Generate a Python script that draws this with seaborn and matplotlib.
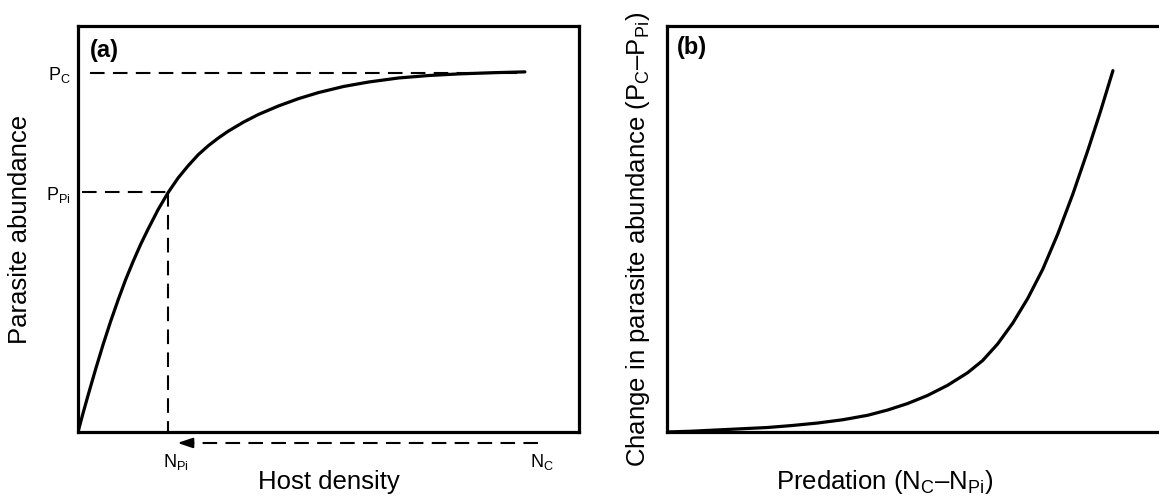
import matplotlib
matplotlib.use("Agg")
import matplotlib.pyplot as plt
import seaborn as sns

# Panel (a): parasite abundance vs host density
host_density = [0, 0.01, 0.02, 0.035, 0.05, 0.065, 0.08, 0.095, 0.11, 0.125,
                0.14, 0.16, 0.18, 0.20, 0.22, 0.24, 0.26, 0.28, 0.30, 0.33,
                0.36, 0.40, 0.44, 0.48, 0.53, 0.58, 0.64, 0.70, 0.76, 0.83, 0.892]
parasite_abundance = [0, 0.046, 0.090, 0.154, 0.215, 0.272, 0.325, 0.375, 0.420,
                      0.462, 0.500, 0.548, 0.590, 0.626, 0.656, 0.683, 0.705,
                      0.724, 0.741, 0.763, 0.782, 0.803, 0.821, 0.836, 0.851,
                      0.862, 0.872, 0.878, 0.882, 0.885, 0.887]

# reference levels
N_Pi, N_C = 0.18, 0.918
P_Pi, P_C = 0.59, 0.885

# Panel (b): change in parasite abundance vs predation
predation = [0, 0.05, 0.10, 0.15, 0.20, 0.25, 0.30, 0.35, 0.40, 0.44, 0.48,
             0.52, 0.56, 0.60, 0.63, 0.66, 0.69, 0.72, 0.75, 0.78, 0.81,
             0.84, 0.865, 0.89]
change_abundance = [0, 0.002, 0.005, 0.008, 0.011, 0.016, 0.022, 0.030, 0.041,
                    0.054, 0.070, 0.090, 0.115, 0.146, 0.176, 0.217, 0.268,
                    0.329, 0.401, 0.488, 0.586, 0.694, 0.789, 0.890]

sns.set_style("white")
plt.rcParams["font.family"] = ["Liberation Sans", "DejaVu Sans"]
plt.rcParams["mathtext.fontset"] = "custom"
plt.rcParams["mathtext.rm"] = "Liberation Sans"
plt.rcParams["mathtext.it"] = "Liberation Sans"
for key in ("text.color", "axes.labelcolor", "xtick.color", "ytick.color"):
    plt.rcParams[key] = "black"

fig = plt.figure(figsize=(11.59, 4.97), dpi=100)
ax_a = fig.add_axes([0.0673, 0.1308, 0.4323, 0.8169])
ax_b = fig.add_axes([0.5755, 0.1308, 0.4323, 0.8169])

for ax in (ax_a, ax_b):
    ax.set_xlim(0, 1)
    ax.set_ylim(0, 1)
    for sp in ax.spines.values():
        sp.set_linewidth(2.3)
        sp.set_color("black")
    ax.tick_params(length=0)

dash = (0, (7, 4))

# ---- panel (a)
sns.lineplot(x=host_density, y=parasite_abundance, ax=ax_a, color="black",
             linewidth=2.3, sort=False)
ax_a.plot([0.024, host_density[-1]], [P_C, P_C], color="black", lw=1.5, linestyle=dash)
ax_a.plot([0.008, N_Pi], [P_Pi, P_Pi], color="black", lw=1.5, linestyle=dash)
ax_a.plot([N_Pi, N_Pi], [P_Pi, 0], color="black", lw=1.5, linestyle=dash)

# dashed arrow below the axis, from N_C back to N_Pi
y_arr = -0.027
ax_a.plot([N_C, N_Pi + 0.04], [y_arr, y_arr], color="black", lw=1.5,
          linestyle=dash, clip_on=False)
ax_a.annotate("", xy=(N_Pi + 0.013, y_arr), xytext=(N_Pi + 0.05, y_arr),
              arrowprops=dict(arrowstyle="-|>,head_length=0.9,head_width=0.3",
                              color="black", lw=1.5),
              annotation_clip=False)

ax_a.set_xticks([])
ax_a.set_yticks([P_Pi, P_C])
ax_a.set_yticklabels([r"$\mathrm{P_{Pi}}$", r"$\mathrm{P_{C}}$"], fontsize=13)
ax_a.tick_params(axis="y", pad=5)

ax_a.text(N_Pi + 0.015, -0.049, r"$\mathrm{N_{Pi}}$", fontsize=13, ha="center", va="top")
ax_a.text(N_C + 0.008, -0.049, r"$\mathrm{N_{C}}$", fontsize=13, ha="center", va="top")

ax_a.set_xlabel("Host density", fontsize=18.5)
ax_a.xaxis.set_label_coords(0.5, -0.094)
ax_a.set_ylabel("Parasite abundance", fontsize=18.5)
ax_a.yaxis.set_label_coords(-0.092, 0.5)
ax_a.text(0.024, 0.94, "(a)", transform=ax_a.transAxes, fontsize=17,
          fontweight="bold", ha="left", va="center")

# ---- panel (b)
sns.lineplot(x=predation, y=change_abundance, ax=ax_b, color="black",
             linewidth=2.3, sort=False)
ax_b.set_xticks([])
ax_b.set_yticks([])
ax_b.set_xlabel(r"Predation ($\mathrm{N_C}$–$\mathrm{N_{Pi}}$)", fontsize=18.5)
ax_b.xaxis.set_label_coords(0.435, -0.089)
ax_b.set_ylabel(r"Change in parasite abundance ($\mathrm{P_C}$–$\mathrm{P_{Pi}}$)",
                fontsize=18.5)
ax_b.yaxis.set_label_coords(-0.03, 0.475)
ax_b.text(0.02, 0.948, "(b)", transform=ax_b.transAxes, fontsize=17,
          fontweight="bold", ha="left", va="center")

plt.savefig("out.png", dpi=100)
plt.close()
